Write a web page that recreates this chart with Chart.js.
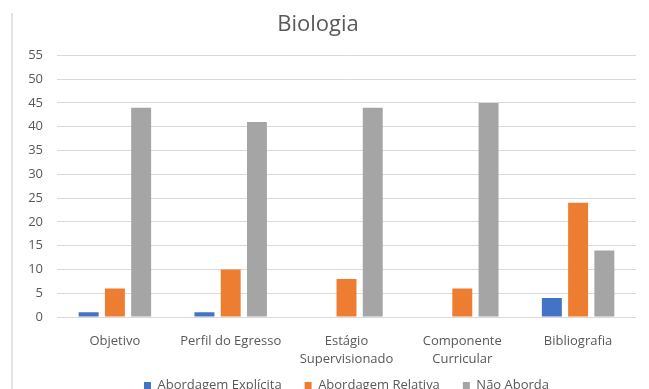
<!DOCTYPE html>
<html>
<head>
<meta charset="utf-8">
<title>Biologia</title>
<script src="https://cdn.jsdelivr.net/npm/chart.js@4/dist/chart.umd.min.js"></script>
<style>
  html, body { margin: 0; padding: 0; background: #fff; overflow: hidden; }
  #wrap { position: relative; width: 649px; height: 389px; overflow: hidden; background: #fff; }
  #edge { position: absolute; left: 11px; top: 13px; bottom: 0; width: 2px; background: #e3e3e3; }
  #c { position: absolute; left: 0; top: 0; }
</style>
</head>
<body>
<div id="wrap">
  <div id="edge"></div>
  <canvas id="c" width="649" height="402"></canvas>
</div>
<script>
// Categories (multi-line labels as arrays)
const categories = [
  'Objetivo',
  'Perfil do Egresso',
  ['Estágio', 'Supervisionado'],
  ['Componente', 'Curricular'],
  'Bibliografia'
];

// Series values per category
const abordagemExplicita = [1, 1, 0, 0, 4];
const abordagemRelativa  = [6, 10, 8, 6, 24];
const naoAborda          = [44, 41, 44, 45, 14];

// Y axis range / step
const yMin = 0;
const yMax = 55;
const yStep = 5;

const textColor = '#595959';
const gridColor = '#d9d9d9';
const fontFamily = '"Open Sans", "Liberation Sans", sans-serif';

new Chart(document.getElementById('c'), {
  type: 'bar',
  data: {
    labels: categories,
    datasets: [
      { label: 'Abordagem Explícita', data: abordagemExplicita, backgroundColor: '#4472C4' },
      { label: 'Abordagem Relativa',  data: abordagemRelativa,  backgroundColor: '#ED7D31' },
      { label: 'Não Aborda',          data: naoAborda,          backgroundColor: '#A5A5A5' }
    ]
  },
  options: {
    responsive: false,
    animation: false,
    devicePixelRatio: 1,
    layout: { padding: { left: 0, right: 13, top: 0, bottom: 0 } },
    datasets: {
      bar: { categoryPercentage: 0.68, barPercentage: 0.76, borderWidth: 0 }
    },
    plugins: {
      title: {
        display: true,
        text: 'Biologia',
        color: textColor,
        font: { family: fontFamily, size: 22, weight: 'normal', lineHeight: 1.2 },
        padding: { top: 12, bottom: 17 }
      },
      legend: {
        position: 'bottom',
        fullSize: false,
        labels: {
          color: textColor,
          font: { family: fontFamily, size: 13 },
          boxWidth: 7,
          boxHeight: 7,
          padding: 10,
          // wider gap between legend entries (em space after all but the last)
          generateLabels: (chart) => {
            const items = Chart.defaults.plugins.legend.labels.generateLabels(chart);
            items.forEach((it, i) => {
              if (i < items.length - 1) it.text = it.text + '\u2003';
            });
            return items;
          }
        }
      },
      tooltip: { enabled: false }
    },
    scales: {
      x: {
        grid: { display: false, drawTicks: false },
        border: { display: false },
        ticks: {
          color: textColor,
          font: { family: fontFamily, size: 13, lineHeight: 1.4 },
          padding: 15,
          maxRotation: 0,
          autoSkip: false
        },
        afterFit: (scale) => { scale.height = 52; }
      },
      y: {
        min: yMin,
        max: yMax,
        grid: { color: gridColor, lineWidth: 1, drawTicks: false },
        border: { display: false },
        ticks: {
          stepSize: yStep,
          color: textColor,
          font: { family: fontFamily, size: 13 },
          padding: 14
        },
        afterFit: (scale) => { scale.width = 57; }
      }
    }
  }
});
</script>
</body>
</html>
